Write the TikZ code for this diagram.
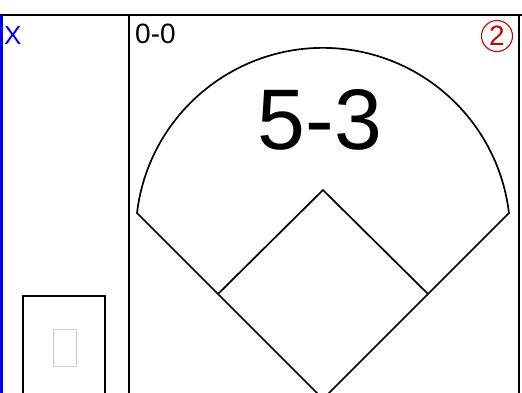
\documentclass[tikz,border=0pt]{standalone}
\usepackage{fontspec}
\setmainfont{Liberation Sans}
\tikzset{
  frame/.style  = {draw=black, line width=1.4pt},
  field/.style  = {draw=black, line width=1.7pt},
  score/.style  = {anchor=north west, inner sep=0pt, font=\fontsize{28}{28}\selectfont},
  play/.style   = {inner sep=0pt, font=\fontsize{86}{86}\selectfont},
  outno/.style  = {circle, draw=red!80!black, text=red!80!black, line width=1.1pt,
                   minimum size=31pt, inner sep=0pt, font=\fontsize{28}{28}\selectfont},
  card/.style   = {draw=black, line width=1.4pt},
  blank/.style  = {draw=gray!40, line width=1.8pt, minimum width=23pt, minimum height=37pt, inner sep=0pt},
}
\begin{document}
\begin{tikzpicture}[x=1pt, y=-1pt]
  \useasboundingbox (0,0) rectangle (522,393);

  % cell frame
  \draw[frame] (0,15) -- (522,15);
  \draw[frame] (129,15) -- (129,393);
  \draw[frame] (519,15) -- (519,393);
  \draw[draw=blue, line width=2.4pt] (1.5,15) -- (1.5,393);

  % texts
  \node[score, text=blue, font=\fontsize{26}{26}\selectfont] (mark) at (4,26) {X};
  \node[score] (count) at (135,24) {0-0};
  \node[play] (result) at (320,120) {5-3};
  \node[outno] (outs) at (497,36) {2};

  % field
  \coordinate (home) at (323,399);
  \coordinate (lfoul) at (137,213);
  \coordinate (rfoul) at (509,213);
  \coordinate (second) at (323,190);
  \coordinate (third) at (218,294);
  \coordinate (first) at (428,294);
  \draw[field] (home) -- (lfoul) arc[start angle=186.8, end angle=353.2, radius=187.3] -- (home);
  \draw[field] (third) -- (second) -- (first);

  % lineup card
  \draw[card] (23,393) -- (23,296) -- (105,296) -- (105,393);
  \node[blank] (glyph) at (65,348) {};
\end{tikzpicture}
\end{document}
